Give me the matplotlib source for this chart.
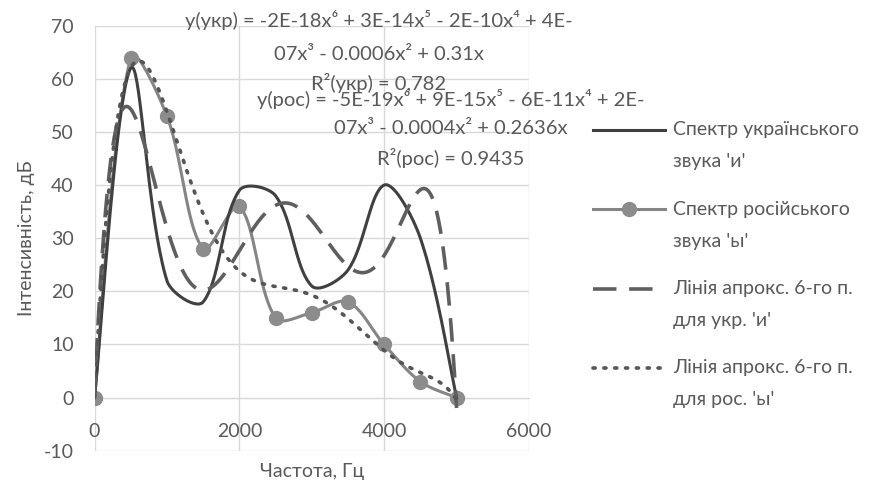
import numpy as np
import matplotlib.pyplot as plt
from matplotlib.lines import Line2D

plt.rcParams['font.family'] = ['Lato', 'DejaVu Sans']
plt.rcParams['axes.unicode_minus'] = False

freq = [0, 500, 1000, 1500, 2000, 2500, 3000, 3500, 4000, 4500, 5000]
ukr = [0, 62, 22, 18, 39, 38, 21, 24, 40, 30, 0]
rus = [0, 64, 53, 28, 36, 15, 16, 18, 10, 3, 0]

labels = [("Спектр українського", "звука 'и'"),
          ("Спектр російського", "звука 'ы'"),
          ("Лінія апрокс. 6-го п.", "для укр. 'и'"),
          ("Лінія апрокс. 6-го п.", "для рос. 'ы'")]

eq_ukr = ["y(укр) = -2E-18x⁶ + 3E-14x⁵ - 2E-10x⁴ + 4E-",
          "07x³ - 0.0006x² + 0.31x",
          "R²(укр) = 0,782"]
eq_rus = ["y(рос) = -5E-19x⁶ + 9E-15x⁵ - 6E-11x⁴ + 2E-",
          "07x³ - 0.0004x² + 0.2636x",
          "R²(рос) = 0.9435"]

W, H = 882, 484
txt = '#595959'
grid = '#d9d9d9'
c_ukr = '#404040'
c_rus = '#858585'
c_tu = '#5f5f5f'
c_tr = '#555555'


def smooth(ax, x, y, n=40):
    # Excel-like smoothed line: bezier segments, tangent lengths split
    # by the screen length of the neighbouring segments
    p = ax.transData.transform(np.column_stack([x, y]).astype(float))
    m = len(p)
    L = [np.hypot(*(p[i + 1] - p[i])) for i in range(m - 1)]
    t = np.linspace(0, 1, n)[:, None]
    out = []
    for i in range(m - 1):
        p0, p3 = p[i], p[i + 1]
        if i == 0:
            p1 = p0 + (p3 - p0) / 6
        else:
            p1 = p0 + (p[i + 1] - p[i - 1]) * L[i] / (L[i - 1] + L[i]) / 3
        if i == m - 2:
            p2 = p3 - (p3 - p0) / 6
        else:
            p2 = p3 - (p[i + 2] - p[i]) * L[i] / (L[i] + L[i + 1]) / 3
        seg = (1 - t) ** 3 * p0 + 3 * (1 - t) ** 2 * t * p1 + 3 * (1 - t) * t ** 2 * p2 + t ** 3 * p3
        out.append(seg)
    d = ax.transData.inverted().transform(np.vstack(out))
    return d[:, 0], d[:, 1]


def trend(x, y, deg=6):
    # polynomial trendline with intercept fixed at zero
    xs = np.asarray(x, float) / 1000
    A = np.column_stack([xs ** k for k in range(1, deg + 1)])
    coef = np.linalg.lstsq(A, np.asarray(y, float), rcond=None)[0]
    xx = np.linspace(0, max(x), 400)
    B = np.column_stack([(xx / 1000) ** k for k in range(1, deg + 1)])
    return xx, B @ coef


fig = plt.figure(figsize=(W / 100, H / 100), dpi=100)
left, right, top, bottom = 94.5, 529, 25.7, 450.7
ax = fig.add_axes([left / W, 1 - bottom / H, (right - left) / W, (bottom - top) / H])

ax.set_xlim(0, 6000)
ax.set_ylim(-10, 70)
ax.set_xticks([0, 2000, 4000, 6000])
ax.set_yticks(range(-10, 71, 10))
ax.grid(True, color=grid, lw=1.0)
ax.set_axisbelow(True)
for s in ['top', 'right', 'left']:
    ax.spines[s].set_visible(False)
ax.spines['bottom'].set_position(('data', 0))
ax.spines['bottom'].set_color(grid)
ax.tick_params(axis='both', length=0, labelsize=14, labelcolor=txt)
ax.tick_params(axis='x', pad=18)
ax.tick_params(axis='y', pad=15)

sx, sy = smooth(ax, freq, ukr)
ax.plot(sx, sy, color=c_ukr, lw=2.2, zorder=4)
rx, ry = smooth(ax, freq, rus)
ax.plot(rx, ry, color=c_rus, lw=2.2, zorder=3)
ax.plot(freq, rus, 'o', color='#8c8c8c', ms=10, zorder=3)

dash_u = (6.5, 3.5)
dash_r = (0.6, 2.4)
tx, ty = trend(freq, ukr)
ax.plot(tx, ty, color=c_tu, lw=2.6, dashes=dash_u, zorder=5)
tx2, ty2 = trend(freq, rus)
ax.plot(tx2, ty2, color=c_tr, lw=2.6, dashes=dash_r, dash_capstyle='round', zorder=5)

ax.set_xlabel('Частота, Гц', fontsize=14, color=txt)
ax.xaxis.set_label_coords(0.5, (bottom - 472) / (bottom - top))
ax.xaxis.label.set_va('center')
ax.set_ylabel('Інтенсивність, дБ', fontsize=14, color=txt)
ax.yaxis.set_label_coords((27 - left) / (right - left), 0.5)
ax.yaxis.label.set_va('center')

for s, yy in zip(eq_ukr, [20, 54, 83]):
    fig.text(379 / W, 1 - yy / H, s, ha='center', va='center', fontsize=14.5, color=txt)
for s, yy in zip(eq_rus, [99, 128, 158]):
    fig.text(451 / W, 1 - yy / H, s, ha='center', va='center', fontsize=14.5, color=txt)

# legend, one handle per entry aligned with its first text line
styles = [dict(color=c_ukr, lw=2.2),
          dict(color=c_rus, lw=2.2, marker='o', ms=10, mfc='#8c8c8c', mec='#8c8c8c', markevery=[1]),
          dict(color=c_tu, lw=2.6, dashes=dash_u),
          dict(color=c_tr, lw=2.6, dashes=dash_r, dash_capstyle='round')]
for i, (st, (l1, l2)) in enumerate(zip(styles, labels)):
    y0 = 130 + 79.3 * i
    fig.add_artist(Line2D([593 / W, 629 / W, 665 / W], [1 - y0 / H] * 3,
                          transform=fig.transFigure, **st))
    fig.text(673 / W, 1 - y0 / H, l1, ha='left', va='center', fontsize=14, color=txt)
    fig.text(673 / W, 1 - (y0 + 32) / H, l2, ha='left', va='center', fontsize=14, color=txt)

fig.savefig('out.png', dpi=100)
